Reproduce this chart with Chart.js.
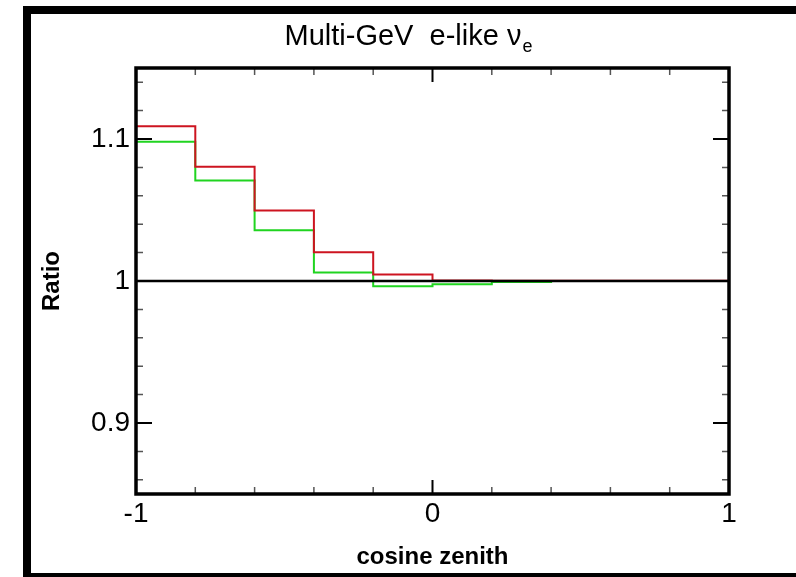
<!DOCTYPE html>
<html>
<head>
<meta charset="utf-8">
<script src="https://cdn.jsdelivr.net/npm/chart.js@4"></script>
<style>
  html, body { margin: 0; padding: 0; background: #fff; overflow: hidden; }
  #frame {
    position: absolute; left: 23px; top: 6px;
    width: 900px; height: 559px;
    border: 8px solid #000;
  }
  #chart { position: absolute; left: 0; top: 0; }
</style>
</head>
<body>
<div id="frame"></div>
<canvas id="chart" width="796" height="577"></canvas>
<script>
'use strict';

// bin edges along cos(zenith)
const binEdges = [-1, -0.8, -0.6, -0.4, -0.2, 0, 0.2, 0.4, 0.6, 0.8, 1];

// ratio per bin
const redRatio   = [1.109, 1.0805, 1.0496, 1.0202, 1.0045, 1.0003, 1.0002, 1.0001, 1.0001, 1.0001];
const greenRatio = [1.0981, 1.0708, 1.0358, 1.006, 0.9963, 0.9977, 0.9993, 1.0, 1.0, 1.0];

const refLine = [1, 1];

const xTickValues = [-1, -0.8, -0.6, -0.4, -0.2, 0, 0.2, 0.4, 0.6, 0.8, 1];
const xTickLabels = ['-1', '', '', '', '', '0', '', '', '', '', '1'];

const yTickValues = [0.86, 0.88, 0.9, 0.92, 0.94, 0.96, 0.98, 1.0,
                     1.02, 1.04, 1.06, 1.08, 1.1, 1.12, 1.14];
const yTickLabels = ['', '', '0.9', '', '', '', '', '1',
                     '', '', '', '', '1.1', '', ''];

const FONT = '"Liberation Sans", Arial, Helvetica, sans-serif';

function histPoints(values) {
    const pts = [{ x: binEdges[0], y: 1 }];
    values.forEach((v, i) => pts.push({ x: binEdges[i], y: v }));
    pts.push({ x: binEdges[binEdges.length - 1], y: values[values.length - 1] });
    return pts;
}

// frame, inward ticks, title
const framePlugin = {
    id: 'frame',
    afterDatasetsDraw(chart) {
        const { ctx, chartArea: a, scales } = chart;
        const x = scales.x, y = scales.y;
        ctx.save();

        // x ticks (bottom and top)
        xTickValues.forEach((v, i) => {
            const px = x.getPixelForValue(v);
            const len = xTickLabels[i] ? 14 : 7;
            ctx.strokeStyle = xTickLabels[i] ? '#000' : '#555';
            ctx.lineWidth = xTickLabels[i] ? 2 : 1.5;
            ctx.beginPath();
            ctx.moveTo(px, a.bottom); ctx.lineTo(px, a.bottom - len);
            ctx.moveTo(px, a.top); ctx.lineTo(px, a.top + len);
            ctx.stroke();
        });

        // y ticks (left and right)
        yTickValues.forEach((v, i) => {
            const py = y.getPixelForValue(v);
            const len = yTickLabels[i] ? 16 : 7;
            ctx.strokeStyle = yTickLabels[i] ? '#000' : '#555';
            ctx.lineWidth = yTickLabels[i] ? 2 : 1.5;
            ctx.beginPath();
            ctx.moveTo(a.left, py); ctx.lineTo(a.left + len, py);
            ctx.moveTo(a.right, py); ctx.lineTo(a.right - len, py);
            ctx.stroke();
        });

        ctx.strokeStyle = '#000';
        ctx.lineWidth = 3.5;
        ctx.strokeRect(a.left, a.top, a.right - a.left, a.bottom - a.top);

        // title with subscript
        const main = 'Multi-GeV  e-like \u03bd';
        const sub = 'e';
        ctx.fillStyle = '#000';
        ctx.textBaseline = 'alphabetic';
        ctx.font = '29px ' + FONT;
        const wMain = ctx.measureText(main).width;
        ctx.font = '18px ' + FONT;
        const wSub = ctx.measureText(sub).width;
        const start = 408 - (wMain + wSub) / 2;
        ctx.font = '29px ' + FONT;
        ctx.fillText(main, start, 45);
        ctx.font = '18px ' + FONT;
        ctx.fillText(sub, start + wMain + 1, 52);

        ctx.restore();
    }
};

new Chart(document.getElementById('chart'), {
    type: 'line',
    data: {
        datasets: [
            {
                label: 'reference',
                data: [{ x: binEdges[0], y: refLine[0] }, { x: binEdges[binEdges.length - 1], y: refLine[1] }],
                borderColor: '#000',
                borderWidth: 2.5,
                pointRadius: 0
            },
            {
                label: 'red',
                data: histPoints(redRatio),
                borderColor: 'rgb(205,20,32)',
                borderWidth: 2,
                pointRadius: 0,
                stepped: 'before'
            },
            {
                label: 'green',
                data: histPoints(greenRatio),
                borderColor: 'rgb(32,212,32)',
                borderWidth: 2,
                pointRadius: 0,
                stepped: 'before'
            }
        ]
    },
    options: {
        responsive: false,
        animation: false,
        layout: { padding: { left: 0, right: 67, top: 68, bottom: 0 } },
        plugins: {
            legend: { display: false },
            title: { display: false },
            tooltip: { enabled: false }
        },
        scales: {
            x: {
                type: 'linear',
                min: -1,
                max: 1,
                grid: { display: false, drawTicks: false },
                border: { display: false },
                afterBuildTicks: s => { s.ticks = xTickValues.map(v => ({ value: v })); },
                afterFit: s => { s.height = 83; },
                ticks: {
                    autoSkip: false,
                    maxRotation: 0,
                    padding: 3,
                    color: '#000',
                    font: { family: FONT, size: 28 },
                    callback: (v, i) => xTickLabels[i]
                },
                title: {
                    display: true,
                    text: 'cosine zenith',
                    color: '#000',
                    padding: 5,
                    font: { family: FONT, size: 24, weight: 'bold' }
                }
            },
            y: {
                min: 0.85,
                max: 1.15,
                grid: { display: false, drawTicks: false },
                border: { display: false },
                afterBuildTicks: s => { s.ticks = yTickValues.map(v => ({ value: v })); },
                afterFit: s => { s.width = 136; },
                ticks: {
                    autoSkip: false,
                    padding: 6,
                    color: '#000',
                    font: { family: FONT, size: 28 },
                    callback: (v, i) => yTickLabels[i]
                },
                title: {
                    display: true,
                    text: 'Ratio',
                    color: '#000',
                    padding: 38,
                    font: { family: FONT, size: 24, weight: 'bold' }
                }
            }
        }
    },
    plugins: [framePlugin]
});
</script>
</body>
</html>
